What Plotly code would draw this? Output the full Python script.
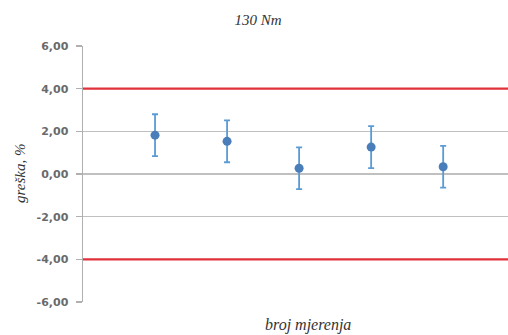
import plotly.graph_objects as go

# Data
measurements = [1, 2, 3, 4, 5]
error_pct = [1.82, 1.53, 0.27, 1.26, 0.34]
uncertainty = [0.98, 0.98, 0.98, 0.98, 0.98]
limits = [4.0, -4.0]
y_ticks = [-6, -4, -2, 0, 2, 4, 6]
y_tick_labels = ["-6,00", "-4,00", "-2,00", "0,00", "2,00", "4,00", "6,00"]
x_range = [0, 5.9]

W, H = 508, 335
L, T, B = 83, 46, 33
PW, PH = W - L, H - T - B

fig = go.Figure()

for lim in limits:
    fig.add_trace(go.Scatter(
        x=x_range, y=[lim, lim], mode="lines",
        line=dict(color="#e0303a", width=2.2),
        hoverinfo="skip", showlegend=False, cliponaxis=False,
    ))

fig.add_trace(go.Scatter(
    x=measurements, y=error_pct, mode="markers",
    marker=dict(color="#4a7ebb", size=9),
    error_y=dict(type="data", array=uncertainty, visible=True,
                 color="#5b9bd5", thickness=1.8, width=3),
    showlegend=False,
))

fig.update_layout(
    width=W, height=H,
    margin=dict(l=L, r=0, t=T, b=B, autoexpand=False),
    paper_bgcolor="white", plot_bgcolor="white",
    title=dict(text="130 Nm", x=258 / W, xref="container", xanchor="center",
               y=1 - 20 / H, yref="container", yanchor="middle",
               font=dict(family="Liberation Serif", size=15, color="#333333",
                         style="italic")),
    xaxis=dict(range=x_range, showgrid=False, zeroline=False,
               showticklabels=False, ticks="", showline=False),
    yaxis=dict(range=[-6, 6], tickvals=y_ticks, ticktext=y_tick_labels,
               automargin=False,
               showgrid=True, gridcolor="#c0c0c0", gridwidth=1.5,
               zeroline=False, showline=True, linecolor="#b0b0b0", linewidth=1.5,
               ticks="outside", ticklen=6, tickcolor="#b0b0b0", tickwidth=1.5,
               ticklabelstandoff=5,
               tickfont=dict(family="DejaVu Sans", size=11, color="#6a6a6a",
                             weight="bold")),
    annotations=[
        dict(text="greška, %", textangle=-90, xref="paper", yref="paper",
             x=-(L - 20) / PW, y=0.5, xanchor="center", yanchor="middle",
             showarrow=False,
             font=dict(family="Liberation Serif", size=15, color="#333333",
                       style="italic")),
        dict(text="broj mjerenja", xref="paper", yref="paper",
             x=(308 - L) / PW, y=-(325 - (T + PH)) / PH, xanchor="center",
             yanchor="middle", showarrow=False,
             font=dict(family="Liberation Serif", size=16, color="#333333",
                       style="italic")),
    ],
)

fig.write_html(
    "out.html",
    config={"displayModeBar": False, "staticPlot": True},
    post_script="document.body.style.margin='0';"
                "document.documentElement.style.overflow='hidden';",
)
